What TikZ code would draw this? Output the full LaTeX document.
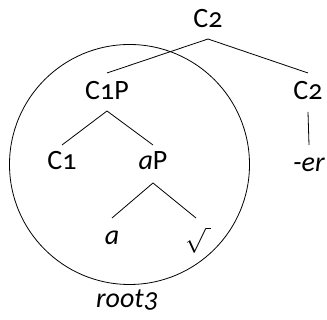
\documentclass[tikz,border=0pt]{standalone}
\usepackage{fontspec}
\setmainfont{Carlito}[Numbers=OldStyle]
\begin{document}
\begin{tikzpicture}[x=1pt,y=1pt,
  lbl/.style={anchor=base,inner sep=0pt,font=\fontsize{28}{32}\selectfont},
  edge/.style={line width=0.8pt}]
\useasboundingbox (0,0) rectangle (327,320);
\node[lbl] (top) at (208,292) {C2};
\node[lbl] (c1p) at (107,220) {C1P};
\node[lbl] (c2r) at (308,220) {C2};
\node[lbl] (c1) at (62,150) {C1};
\node[lbl] (ap) at (153,150) {\textit{a}P};
\node[lbl] (er) at (309,148) {\textit{-er}};
\node[lbl] (a) at (112,75) {\textit{a}};
\node[lbl,font=\fontsize{24}{28}\selectfont] (rt) at (198,70) {$\sqrt{\vphantom{l}\hspace{5pt}}$};
\node[lbl] (root) at (127,12) {\textit{root3}};
\node[draw,circle,minimum size=240pt,inner sep=0pt,line width=0.8pt] (circ) at (129.5,155.5) {};
\draw[edge] ([yshift=-11]top.base) -- ([yshift=27]c1p.base);
\draw[edge] ([yshift=-11]top.base) -- ([yshift=27]c2r.base);
\draw[edge] ([yshift=-12]c2r.base) -- ([yshift=27]er.base);
\draw[edge] ([yshift=-11]c1p.base) -- ([yshift=25]c1.base);
\draw[edge] ([yshift=-11]c1p.base) -- ([yshift=25]ap.base);
\draw[edge] ([yshift=-13]ap.base) -- ([yshift=27]a.base);
\draw[edge] ([yshift=-13]ap.base) -- ([xshift=-2,yshift=32]rt.base);
\end{tikzpicture}
\end{document}
